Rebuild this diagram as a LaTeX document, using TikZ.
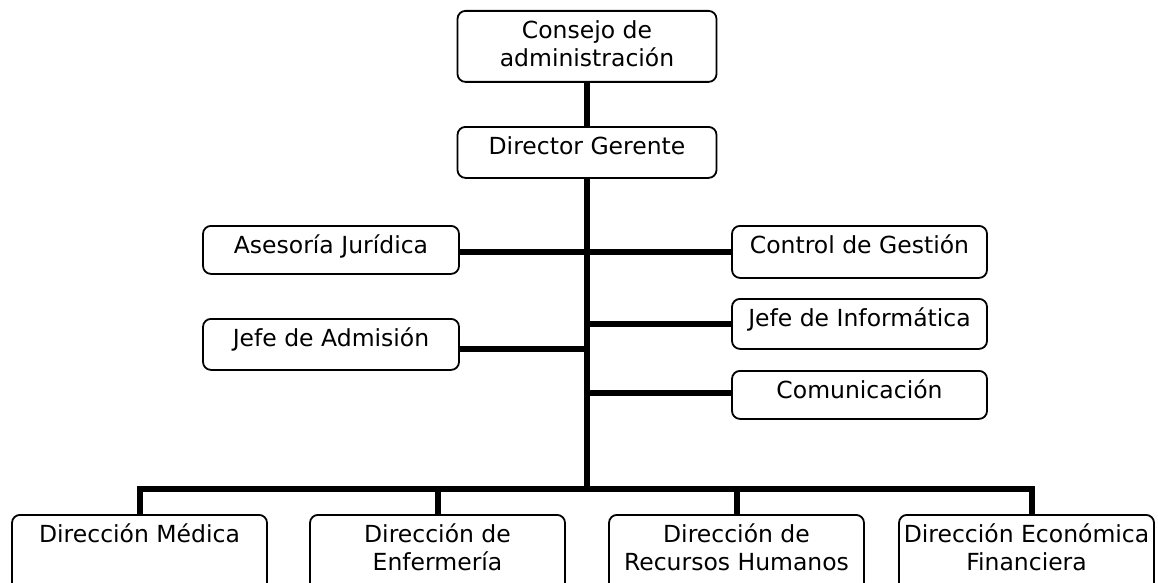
\documentclass[tikz,border=0pt]{standalone}
\usepackage{fontspec}
\setmainfont{DejaVu Sans}
\newcommand{\mlines}[1]{\begin{tabular}[t]{@{}c@{}}#1\end{tabular}}
\begin{document}
\begin{tikzpicture}[x=1pt,y=-1pt,
  ob/.style={draw=black, line width=1.8pt, rounded corners=8pt, inner sep=0pt,
    anchor=north, text height=28pt, font={\fontsize{23.5}{28}\selectfont}},
  link/.style={line width=5.6pt, draw=black}]
\useasboundingbox (0,0) rectangle (1158,583);
\clip (0,0) rectangle (1158,583);
% boxes
\node[ob, minimum width=259pt, text depth=43pt] (cons) at (587,10) {\mlines{Consejo de\\administración}};
\node[ob, minimum width=259pt, text depth=23pt] (dir) at (587,126) {\mlines{Director Gerente}};
\node[ob, minimum width=256pt, text depth=20pt] (ases) at (331,225) {\mlines{Asesoría Jurídica}};
\node[ob, minimum width=256pt, text depth=23pt] (adm) at (331,318) {\mlines{Jefe de Admisión}};
\node[ob, minimum width=255pt, text depth=24pt] (ctrl) at (859.5,225) {\mlines{Control de Gestión}};
\node[ob, minimum width=255pt, text depth=22pt] (inf) at (859.5,298) {\mlines{Jefe de Informática}};
\node[ob, minimum width=255pt, text depth=20pt] (com) at (859.5,370) {\mlines{Comunicación}};
\node[ob, minimum width=255pt, text depth=48pt] (med) at (139.5,514) {\mlines{Dirección Médica}};
\node[ob, minimum width=255pt, text depth=48pt] (enf) at (437.5,514) {\mlines{Dirección de\\Enfermería}};
\node[ob, minimum width=255pt, text depth=48pt] (rrhh) at (736.5,514) {\mlines{Dirección de\\Recursos Humanos}};
\node[ob, minimum width=255pt, text depth=48pt] (eco) at (1026.5,514) {\mlines{Dirección Económica\\Financiera}};
% junction points
\coordinate (jA) at (587,252);
\coordinate (jI) at (587,324);
\coordinate (jM) at (587,349);
\coordinate (jC) at (587,393);
\coordinate (b1) at (140,489);
\coordinate (b2) at (438,489);
\coordinate (b3) at (737,489);
\coordinate (b4) at (1032,489);
\coordinate (bt) at (587,489);
% connectors
\draw[link] (cons.south) -- (dir.north);
\draw[link] (dir.south) -- (bt);
\draw[link] (jA -| ases.east) -- (jA) -- (jA -| ctrl.west);
\draw[link] (jI) -- (jI -| inf.west);
\draw[link] (jM -| adm.east) -- (jM);
\draw[link] (jC) -- (jC -| com.west);
\draw[link] (b1 |- med.north) -- (b1) -- (b4) -- (b4 |- eco.north);
\draw[link] (b2) -- (b2 |- enf.north);
\draw[link] (b3) -- (b3 |- rrhh.north);
\end{tikzpicture}
\end{document}
